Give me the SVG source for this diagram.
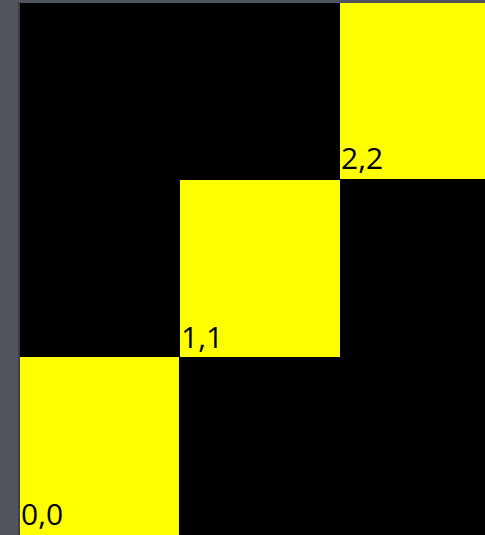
<svg xmlns="http://www.w3.org/2000/svg" width="485" height="535" viewBox="0 0 485 535">
<style>
.cell{fill:#ffff00}
.lbl{font-family:"Open Sans","Liberation Sans",Arial,sans-serif;font-size:30px;fill:#000}
</style>
<rect x="0" y="0" width="485" height="535" fill="#50545c"/>
<rect x="18" y="2" width="2" height="533" fill="#3c3f45"/>
<rect x="20" y="3" width="465" height="532" fill="#000"/>
<g id="cell-2-2"><rect class="cell" x="340" y="3" width="145" height="176"/><text class="lbl" x="341" y="169">2,2</text></g>
<g id="cell-1-1"><rect class="cell" x="180" y="180" width="160" height="177"/><text class="lbl" x="181" y="348">1,1</text></g>
<g id="cell-0-0"><rect class="cell" x="20" y="357" width="159" height="178"/><text class="lbl" x="21" y="525">0,0</text></g>
<g id="connectors"/>
</svg>
